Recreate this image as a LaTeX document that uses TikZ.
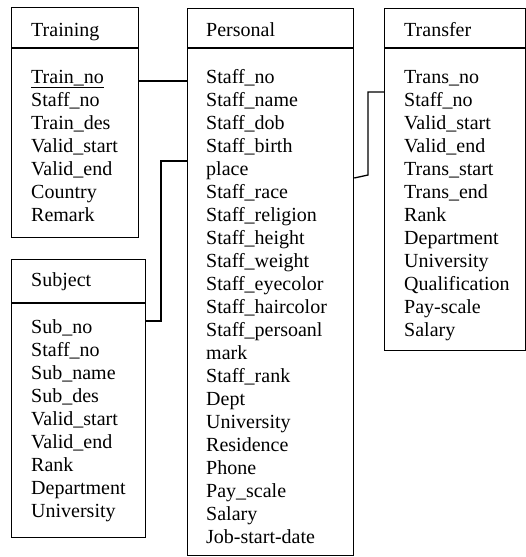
\documentclass[tikz,border=0pt]{standalone}
\usepackage{fontspec}
\setmainfont{Liberation Serif}
\begin{document}
\begin{tikzpicture}[x=1pt,y=-1pt,
  box/.style={draw, line width=1.3pt, inner sep=0pt, anchor=north west},
  lbl/.style={anchor=base west, inner sep=0pt, font=\fontsize{20}{23}\selectfont},
  rule/.style={line width=1.3pt},
  link/.style={line width=1.3pt}]
\useasboundingbox (0,0) rectangle (526,557);

% table frames
\node[box, minimum width=127pt, minimum height=230pt] (training) at (11,7) {};
\node[box, minimum width=166pt, minimum height=547pt] (personal) at (187,8) {};
\node[box, minimum width=141pt, minimum height=342pt] (transfer) at (384,8) {};
\node[box, minimum width=134pt, minimum height=278pt] (subject) at (11,259) {};

% header separators
\draw[rule] (training.west |- 0,48) -- (training.east |- 0,48);
\draw[rule] (personal.west |- 0,48) -- (personal.east |- 0,48);
\draw[rule] (transfer.west |- 0,48) -- (transfer.east |- 0,48);
\draw[rule] (subject.west |- 0,303) -- (subject.east |- 0,303);

% table names
\node[lbl] (training-title) at (31,36) {Training};
\node[lbl] (personal-title) at (206,36) {Personal};
\node[lbl] (transfer-title) at (404,36) {Transfer};
\node[lbl] (subject-title) at (31,286) {Subject};

% attributes
\foreach \t [count=\i from 0] in {\underline{Train\_no}, Staff\_no, Train\_des, Valid\_start, Valid\_end, Country, Remark}
  \node[lbl] (training-\i) at (31,83+23*\i) {\t};

\foreach \t [count=\i from 0] in {Staff\_no, Staff\_name, Staff\_dob, Staff\_birth, place, Staff\_race, Staff\_religion, Staff\_height, Staff\_weight, Staff\_eyecolor, Staff\_haircolor, Staff\_persoanl, mark, Staff\_rank, Dept, University, Residence, Phone, Pay\_scale, Salary, Job-start-date}
  \node[lbl] (personal-\i) at (206,83+23*\i) {\t};

\foreach \t [count=\i from 0] in {Trans\_no, Staff\_no, Valid\_start, Valid\_end, Trans\_start, Trans\_end, Rank, Department, University, Qualification, Pay-scale, Salary}
  \node[lbl] (transfer-\i) at (404,83+23*\i) {\t};

\foreach \t [count=\i from 0] in {Sub\_no, Staff\_no, Sub\_name, Sub\_des, Valid\_start, Valid\_end, Rank, Department, University}
  \node[lbl] (subject-\i) at (31,333+23*\i) {\t};

% relationships
\draw[link] (training.east |- 0,81) -- (personal.west |- 0,81);

\coordinate (sj1) at (161,161);
\coordinate (sj2) at (161,321);
\draw[link] (personal.west |- sj1) -- (sj1) -- (sj2) -- (subject.east |- sj2);

\coordinate (tf1) at (368,175);
\coordinate (tf2) at (368,92);
\draw[link] (personal.east |- 0,178) -- (tf1) -- (tf2) -- (transfer.west |- tf2);
\end{tikzpicture}
\end{document}
